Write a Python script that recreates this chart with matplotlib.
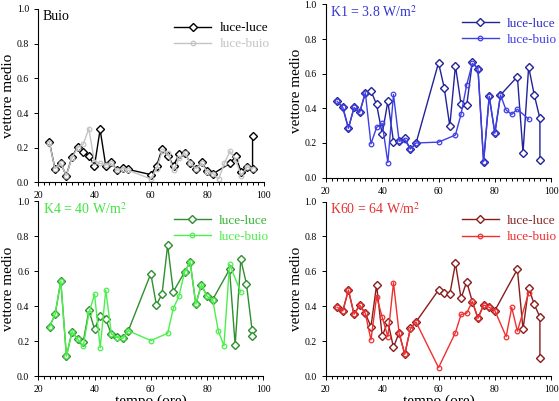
import matplotlib
matplotlib.use("Agg")
import matplotlib.pyplot as plt
from matplotlib.ticker import MultipleLocator

plt.rcParams["font.family"] = ["Liberation Serif", "DejaVu Serif"]
plt.rcParams["mathtext.fontset"] = "stix"

# ---- data ----
# panel "Buio"
buio_ll_t = [24, 26, 28, 30, 32, 34, 36, 38, 40, 42, 44, 46, 48, 50, 52,
             60, 62, 64, 66, 68, 70, 72, 74, 76, 78, 80, 82, 88, 90, 92, 94, 96, 96]
buio_ll_v = [0.235, 0.08, 0.11, 0.04, 0.145, 0.205, 0.177, 0.155, 0.095, 0.305,
             0.095, 0.115, 0.07, 0.085, 0.075, 0.045, 0.095, 0.195, 0.155, 0.095,
             0.165, 0.17, 0.11, 0.08, 0.115, 0.065, 0.05, 0.11, 0.15, 0.06, 0.09,
             0.075, 0.27]
buio_lb_t = [24, 26, 28, 30, 32, 34, 36, 38, 40, 42, 44, 46, 48, 50, 52,
             60, 62, 64, 66, 68, 70, 72, 74, 76, 78, 80, 82, 84, 86, 88, 90, 92, 94, 96]
buio_lb_v = [0.23, 0.08, 0.11, 0.04, 0.14, 0.2, 0.22, 0.31, 0.12, 0.11, 0.1,
             0.11, 0.07, 0.08, 0.07, 0.02, 0.08, 0.18, 0.17, 0.07, 0.14, 0.17,
             0.11, 0.08, 0.11, 0.06, 0.05, 0.02, 0.11, 0.18, 0.13, 0.04, 0.09, 0.08]

# panel K1
k1_ll_t = [24, 26, 28, 30, 32, 34, 36, 38, 40, 42, 44, 46, 48, 50, 52,
           60, 62, 64, 66, 68, 70, 72, 74, 76, 78, 80, 82, 88, 90, 92, 94, 96, 96]
k1_ll_v = [0.44, 0.405, 0.285, 0.405, 0.377, 0.49, 0.5, 0.423, 0.252, 0.44,
           0.208, 0.212, 0.227, 0.165, 0.198, 0.663, 0.52, 0.298, 0.646, 0.423,
           0.417, 0.665, 0.63, 0.092, 0.47, 0.256, 0.477, 0.583, 0.144, 0.64,
           0.477, 0.342, 0.102]
k1_lb_t = [24, 26, 28, 30, 32, 34, 36, 38, 40, 42, 44, 46, 48, 50, 52,
           60, 66, 68, 70, 72, 74, 76, 78, 80, 82, 84, 86, 88, 92]
k1_lb_v = [0.44, 0.405, 0.285, 0.405, 0.377, 0.49, 0.195, 0.29, 0.313, 0.087,
           0.48, 0.21, 0.22, 0.165, 0.2, 0.205, 0.246, 0.367, 0.535, 0.66, 0.63,
           0.092, 0.47, 0.256, 0.477, 0.39, 0.365, 0.395, 0.338]

# panel K4
k4_ll_t = [24, 26, 28, 30, 32, 34, 36, 38, 40, 42, 44, 46, 48, 50, 52,
           60, 62, 64, 66, 68, 72, 74, 76, 78, 80, 82, 88, 90, 92, 94, 96, 96]
k4_ll_v = [0.282, 0.354, 0.543, 0.114, 0.253, 0.211, 0.196, 0.377, 0.267, 0.345,
           0.324, 0.238, 0.221, 0.215, 0.259, 0.585, 0.406, 0.47, 0.749, 0.482,
           0.594, 0.653, 0.411, 0.523, 0.455, 0.437, 0.61, 0.177, 0.667, 0.528,
           0.265, 0.229]
k4_lb_t = [24, 26, 28, 30, 32, 34, 36, 38, 40, 42, 44, 46, 48, 50, 52,
           60, 66, 68, 70, 72, 74, 76, 78, 80, 82, 84, 86, 88, 92]
k4_lb_v = [0.282, 0.354, 0.543, 0.114, 0.253, 0.211, 0.173, 0.36, 0.467, 0.162,
           0.491, 0.24, 0.22, 0.215, 0.259, 0.203, 0.244, 0.387, 0.455, 0.594,
           0.653, 0.411, 0.523, 0.455, 0.437, 0.258, 0.173, 0.638, 0.48]

# panel K60
k60_ll_t = [24, 26, 28, 30, 32, 34, 36, 38, 40, 42, 44, 46, 48, 50, 52,
            60, 62, 64, 66, 68, 70, 72, 74, 76, 78, 80, 88, 90, 92, 94, 96, 96]
k60_ll_v = [0.394, 0.373, 0.493, 0.354, 0.407, 0.359, 0.283, 0.522, 0.229, 0.312,
            0.164, 0.249, 0.124, 0.273, 0.31, 0.493, 0.474, 0.468, 0.646, 0.446,
            0.541, 0.426, 0.331, 0.407, 0.394, 0.375, 0.612, 0.268, 0.506, 0.41,
            0.338, 0.104]
k60_lb_t = [24, 26, 28, 30, 32, 34, 36, 38, 40, 42, 44, 46, 48, 50, 52,
            60, 66, 68, 70, 72, 74, 76, 78, 80, 84, 86, 88, 92]
k60_lb_v = [0.394, 0.373, 0.493, 0.354, 0.407, 0.359, 0.207, 0.455, 0.337, 0.225,
            0.535, 0.245, 0.124, 0.27, 0.31, 0.048, 0.249, 0.353, 0.36, 0.428,
            0.331, 0.407, 0.394, 0.375, 0.226, 0.393, 0.257, 0.477]

PANELS = [
    # (rect, title, title colour, ll data, lb data, ll colour, lb colour, ll text, lb text, xlabel)
    ([0.068, 0.545, 0.404, 0.433], "Buio", "black",
     (buio_ll_t, buio_ll_v), (buio_lb_t, buio_lb_v),
     "black", "#c4c4c4", "black", "#c4c4c4", False),
    ([0.583, 0.557, 0.403, 0.432], "K1 = 3.8 W/m$^2$", "#3434d0",
     (k1_ll_t, k1_ll_v), (k1_lb_t, k1_lb_v),
     "#22229a", "#3f3fe6", "#3030c8", "#3f3fe6", False),
    ([0.0685, 0.0623, 0.4025, 0.436], "K4 = 40 W/m$^2$", "#3ee63e",
     (k4_ll_t, k4_ll_v), (k4_lb_t, k4_lb_v),
     "#2e8f2e", "#4cf04c", "#33b533", "#4cf04c", True),
    ([0.583, 0.0623, 0.403, 0.435], "K60 = 64 W/m$^2$", "#e83030",
     (k60_ll_t, k60_ll_v), (k60_lb_t, k60_lb_v),
     "#8a1c1c", "#f03030", "#8a2424", "#f03030", True),
]


def draw(fig, rect, title, tcol, ll, lb, llc, lbc, llt, lbt, xlab):
    ax = fig.add_axes(rect)
    ax.plot(ll[0], ll[1], color=llc, lw=1.0, marker="D", ms=4.3,
            mfc="white", mec=llc, mew=1.0, label="luce-luce")
    ax.plot(lb[0], lb[1], color=lbc, lw=1.0, marker="o", ms=3.3,
            mfc="none", mec=lbc, mew=0.9, label="luce-buio")
    ax.set_xlim(20, 100)
    ax.set_ylim(0, 1.0)
    ax.xaxis.set_major_locator(MultipleLocator(20))
    ax.xaxis.set_minor_locator(MultipleLocator(2))
    ax.yaxis.set_major_locator(MultipleLocator(0.2))
    ax.yaxis.set_major_formatter(plt.FormatStrFormatter("%.1f"))
    ax.tick_params(which="both", direction="out", labelsize=7, width=0.7)
    ax.tick_params(which="major", length=3)
    ax.tick_params(which="minor", length=2)
    for s in ("top", "right"):
        ax.spines[s].set_visible(False)
    for s in ("left", "bottom"):
        ax.spines[s].set_linewidth(0.8)
    ax.set_ylabel("vettore medio", fontsize=11, labelpad=1)
    if xlab:
        ax.set_xlabel("tempo (ore)", fontsize=11, labelpad=0)
    ax.text(0.02, 0.955, title, transform=ax.transAxes, color=tcol,
            fontsize=10, ha="left", va="center")
    leg = ax.legend(loc="upper right", bbox_to_anchor=(1.06, 0.97), frameon=False,
                    fontsize=9.5, handlelength=2.8, handletextpad=0.6,
                    labelspacing=0.3, borderaxespad=0.2)
    for txt, c in zip(leg.get_texts(), (llt, lbt)):
        txt.set_color(c)
    return ax


def main():
    fig = plt.figure(figsize=(5.59, 4.01), dpi=100)
    for p in PANELS:
        draw(fig, *p)
    fig.savefig("out.png", dpi=100)
    plt.close(fig)


if __name__ == "__main__":
    main()
